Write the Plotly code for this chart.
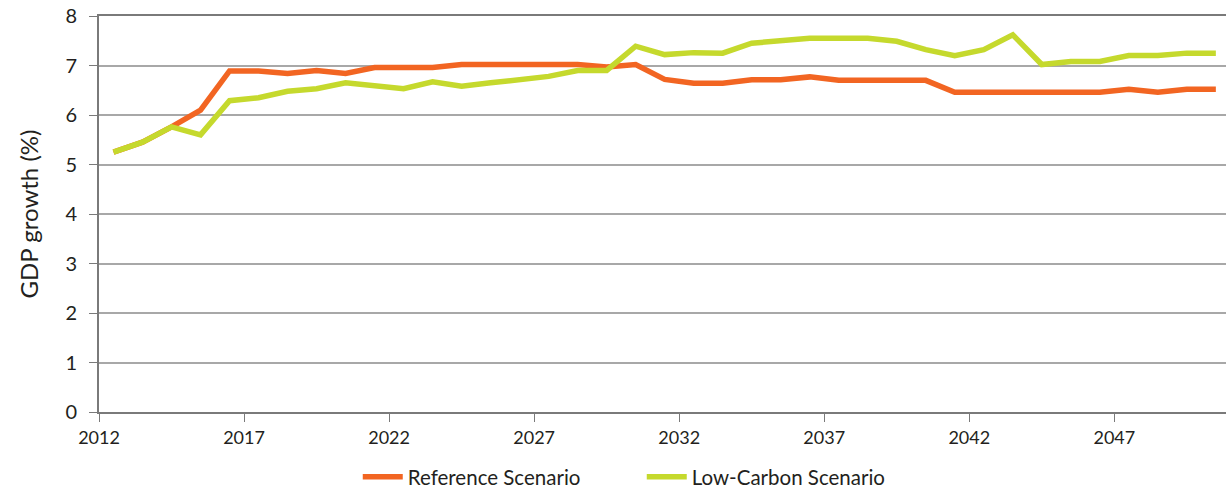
import plotly.graph_objects as go

# Category positions (each year is centred between tick marks)
x_pos = [2012.5 + i for i in range(39)]

reference = [5.25, 5.45, 5.76, 6.10, 6.89, 6.89, 6.84, 6.90, 6.84, 6.96,
             6.96, 6.96, 7.02, 7.02, 7.02, 7.02, 7.02, 6.97, 7.02, 6.72,
             6.64, 6.64, 6.71, 6.71, 6.77, 6.70, 6.70, 6.70, 6.70, 6.46,
             6.46, 6.46, 6.46, 6.46, 6.46, 6.52, 6.46, 6.52, 6.52]

low_carbon = [5.25, 5.45, 5.76, 5.60, 6.29, 6.35, 6.48, 6.53, 6.65, 6.60,
              6.53, 6.67, 6.58, 6.65, 6.72, 6.78, 6.90, 6.90, 7.39, 7.22,
              7.26, 7.25, 7.45, 7.51, 7.55, 7.55, 7.55, 7.49, 7.32, 7.20,
              7.32, 7.62, 7.02, 7.08, 7.08, 7.20, 7.20, 7.25, 7.25]

x_tickvals = [2012, 2017, 2022, 2027, 2032, 2037, 2042, 2047]
x_ticktext = ["2012", "2017", "2022", "2027", "2032", "2037", "2042", "2047"]
y_tickvals = [0, 1, 2, 3, 4, 5, 6, 7, 8]

FONT = "Lato, 'Open Sans', sans-serif"
TEXT = "#231f20"

fig = go.Figure()
fig.add_trace(go.Scatter(x=x_pos, y=reference, mode="lines", name="Reference Scenario",
                         line=dict(color="#F26522", width=5.5)))
fig.add_trace(go.Scatter(x=x_pos, y=low_carbon, mode="lines", name="Low-Carbon Scenario",
                         line=dict(color="#C5D92D", width=5.5)))

fig.update_layout(
    width=1226, height=491,
    margin=dict(l=99.4, r=0, t=16, b=79, autoexpand=False),
    paper_bgcolor="white", plot_bgcolor="white",
    font=dict(family=FONT, color=TEXT, size=18),
    showlegend=True,
    legend=dict(orientation="h", x=0.2296, xanchor="left", y=-0.164, yanchor="middle",
                font=dict(size=20.5, color=TEXT), entrywidth=229, entrywidthmode="pixels",
                itemwidth=40, bgcolor="rgba(0,0,0,0)"),
    xaxis=dict(range=[2012, 2050.85], tickvals=x_tickvals, ticktext=x_ticktext,
               showgrid=False, zeroline=False, showline=True, linecolor="#7a7a7a", linewidth=2,
               mirror=True,
               ticks="outside", ticklen=8, tickcolor="#7a7a7a", tickwidth=1,
               tickfont=dict(size=18, color=TEXT), automargin=False),
    yaxis=dict(range=[0, 8], tickvals=y_tickvals, showgrid=True, gridcolor="#a8a8a8", gridwidth=1.5,
               zeroline=False, showline=True, linecolor="#7a7a7a", linewidth=2,
               ticks="outside", ticklen=8, tickcolor="#7a7a7a", tickwidth=1,
               ticklabelstandoff=8,
               tickfont=dict(size=20, color=TEXT), automargin=False,
               title=dict(text="GDP growth (%)", font=dict(size=24, color=TEXT), standoff=20)),
)

# remove the default page margin so the figure sits at the window's corner
fig.write_html("out.html", config={"displayModeBar": False},
               post_script="document.body.style.margin='0';")
